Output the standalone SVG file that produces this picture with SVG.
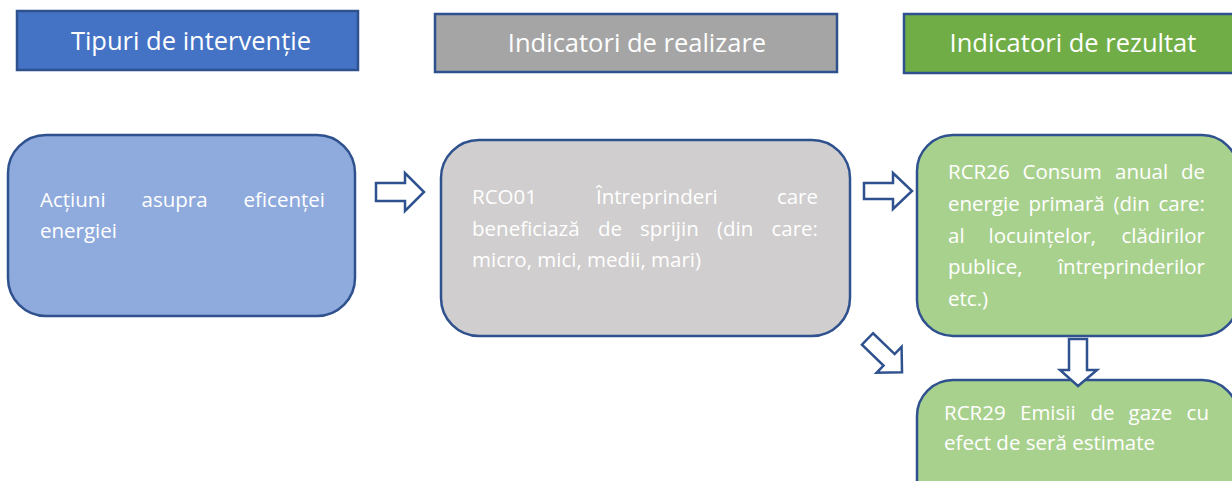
<svg xmlns="http://www.w3.org/2000/svg" width="1232" height="481" viewBox="0 0 1232 481">
<style>
.hdr{stroke:#2f528f;stroke-width:2.5}
.box{stroke:#2f528f;stroke-width:2.5}
.arr{fill:#ffffff;stroke:#2f528f;stroke-width:2.5;stroke-linejoin:miter}
text{font-family:"Open Sans","Noto Sans","Liberation Sans",sans-serif;fill:#ffffff}
.ht{font-size:25.5px;text-anchor:middle}
.bt{font-size:20.5px}
.e{text-anchor:end}
</style>
<rect width="1232" height="481" fill="#ffffff"/>
<g id="header1">
<rect class="hdr" x="17" y="11" width="341" height="59" fill="#4472c4"/>
<text class="ht" x="191" y="50">Tipuri de intervenție</text>
</g>
<g id="header2">
<rect class="hdr" x="435" y="14" width="402" height="58" fill="#a5a5a5"/>
<text class="ht" x="637" y="52">Indicatori de realizare</text>
</g>
<g id="header3">
<rect class="hdr" x="904" y="14" width="340" height="59" fill="#70ad47"/>
<text class="ht" x="1073" y="52">Indicatori de rezultat</text>
</g>
<g id="box1">
<rect class="box" x="8" y="135" width="347" height="181" rx="38" fill="#8faadc"/>
<text class="bt" x="40" y="207">Acțiuni</text>
<text class="bt" x="141.5" y="207">asupra</text>
<text class="bt e" x="325" y="207">eficenței</text>
<text class="bt" x="40" y="238">energiei</text>
</g>
<g id="box2">
<rect class="box" x="441" y="140" width="409" height="196" rx="38" fill="#d0cece"/>
<text class="bt" x="472" y="204">RCO01</text>
<text class="bt" x="596" y="204">Întreprinderi</text>
<text class="bt e" x="818" y="204">care</text>
<text class="bt" x="472" y="236">beneficiază</text>
<text class="bt" x="598" y="236">de</text>
<text class="bt" x="640" y="236">sprijin</text>
<text class="bt" x="717" y="236">(din</text>
<text class="bt e" x="818" y="236">care:</text>
<text class="bt" x="472" y="267">micro, mici, medii, mari)</text>
</g>
<g id="box3">
<rect class="box" x="917" y="135" width="321" height="201" rx="36" fill="#a9d18e"/>
<text class="bt" x="948" y="179">RCR26</text>
<text class="bt" x="1022.5" y="179">Consum</text>
<text class="bt" x="1115" y="179">anual</text>
<text class="bt e" x="1205" y="179">de</text>
<text class="bt" x="948" y="211">energie</text>
<text class="bt" x="1028.5" y="211">primară</text>
<text class="bt" x="1113.5" y="211">(din</text>
<text class="bt e" x="1205" y="211">care:</text>
<text class="bt" x="948" y="243">al</text>
<text class="bt" x="988.5" y="243">locuințelor,</text>
<text class="bt e" x="1205" y="243">clădirilor</text>
<text class="bt" x="948" y="274">publice,</text>
<text class="bt e" x="1205" y="274">întreprinderilor</text>
<text class="bt" x="948" y="306">etc.)</text>
</g>
<g id="box4">
<rect class="box" x="917" y="380" width="321" height="140" rx="36" fill="#a9d18e"/>
<text class="bt" x="944" y="420">RCR29</text>
<text class="bt" x="1020" y="420">Emisii</text>
<text class="bt" x="1090.5" y="420">de</text>
<text class="bt" x="1128.5" y="420">gaze</text>
<text class="bt e" x="1209" y="420">cu</text>
<text class="bt" x="944" y="450">efect de seră estimate</text>
</g>
<g id="connectors">
<path class="arr" d="M376,183 L405,183 L405,173 L424,192 L405,211 L405,201 L376,201 Z"/>
<path class="arr" d="M864,183 L893,183 L893,173 L912,191 L893,209 L893,199 L864,199 Z"/>
<path class="arr" transform="translate(867.5,339) rotate(44)" d="M0,-8 L30,-8 L30,-18 L48,0 L30,18 L30,8 L0,8 Z"/>
<path class="arr" d="M1069,339 L1087,339 L1087,370 L1097,370 L1078,386 L1060,370 L1069,370 Z"/>
</g>
</svg>
